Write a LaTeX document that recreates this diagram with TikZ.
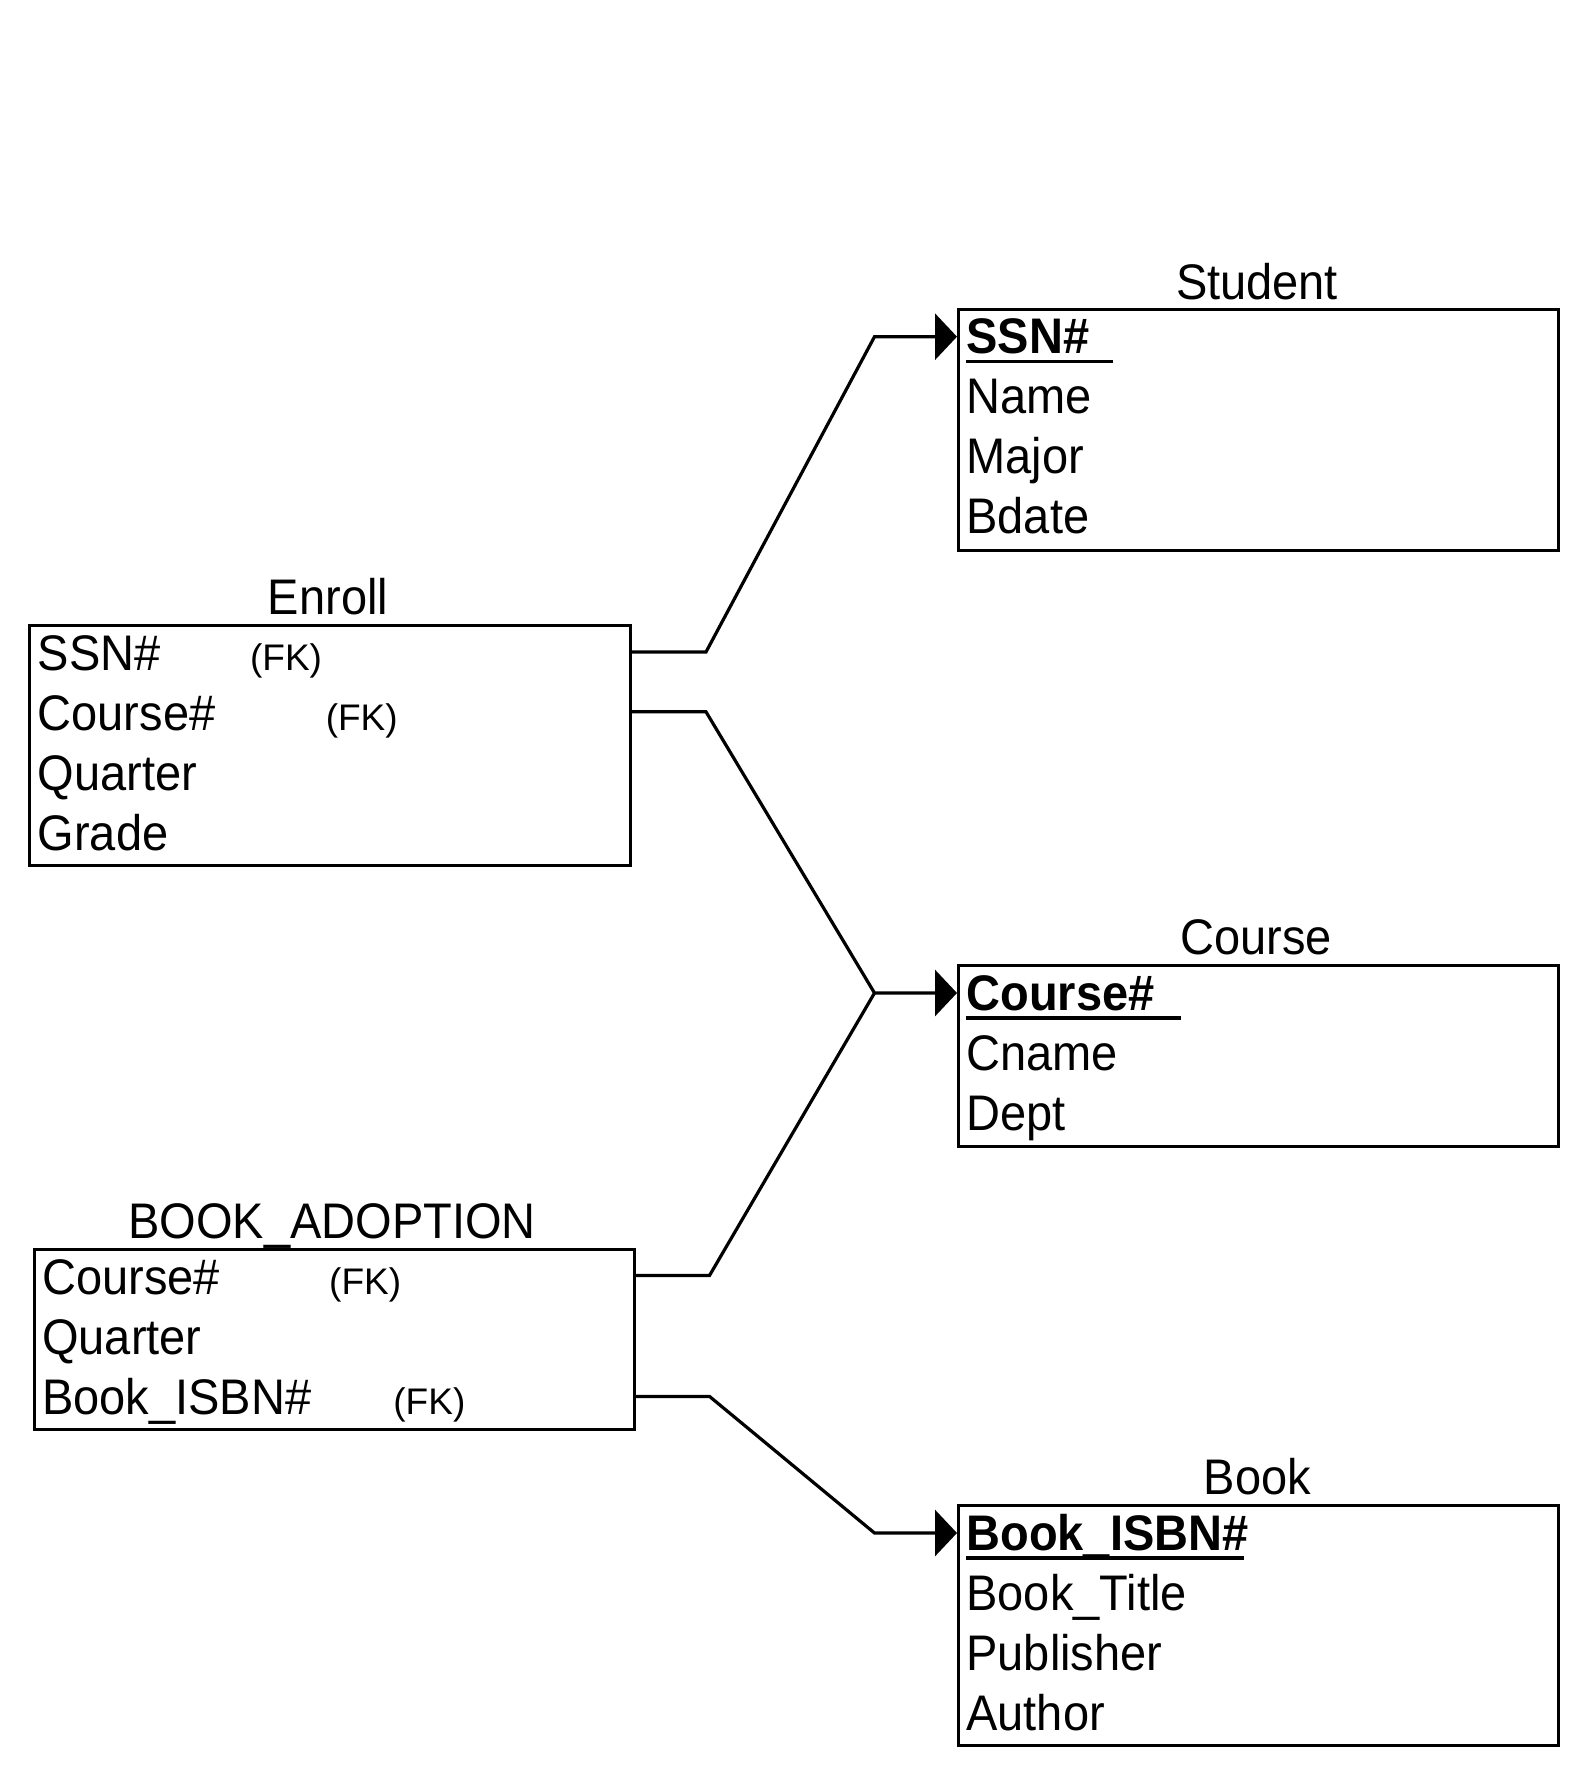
\documentclass[tikz,border=0pt]{standalone}
\usepackage{fontspec}
\setmainfont{Liberation Sans}
\usetikzlibrary{arrows.meta}
\begin{document}
\begin{tikzpicture}[x=0.5pt,y=-0.5pt,
  tablebox/.style={draw, line width=1.6pt, inner sep=0pt, anchor=north west, minimum width=300pt},
  rowtext/.style={anchor=base west, inner sep=0pt, xscale=0.94, font=\fontsize{25}{30}\selectfont},
  keytext/.style={anchor=base west, inner sep=0pt, xscale=0.94, font=\fontsize{25}{30}\selectfont\bfseries},
  titletext/.style={anchor=base, inner sep=0pt, xscale=0.94, font=\fontsize{25}{30}\selectfont},
  fktext/.style={anchor=base west, inner sep=0pt, font=\fontsize{18.5}{22}\selectfont},
  keyline/.style={line width=1.6pt},
  conn/.style={line width=1.6pt, line join=miter},
  connarrow/.style={conn, -{Triangle[length=11pt,width=23pt]}}]
\useasboundingbox (0,0) rectangle (1584,1772);

% Student
\node[tablebox, minimum height=120.5pt] (student) at (957,308) {};
\node[titletext] (studentT) at (1257,299) {Student};
\node[keytext] (sSSN) at (966,353.6) {SSN\#};
\draw[keyline] (966,361.5) -- (1113,361.5);
\node[rowtext] (sName) at (966,413.6) {Name};
\node[rowtext] (sMajor) at (966,473.6) {Major};
\node[rowtext] (sBdate) at (966,533.6) {Bdate};

% Enroll
\node[tablebox, minimum width=300.5pt, minimum height=120pt] (enroll) at (28,624) {};
\node[titletext] (enrollT) at (328,614.6) {Enroll};
\node[rowtext] (eSSN) at (37.3,670) {SSN\#};
\node[fktext] (eFK1) at (249.7,670) {(FK)};
\node[rowtext] (eCourse) at (37.3,730) {Course\#};
\node[fktext] (eFK2) at (325.4,730) {(FK)};
\node[rowtext] (eQuarter) at (37.3,790) {Quarter};
\node[rowtext] (eGrade) at (37.3,850) {Grade};

% Course
\node[tablebox, minimum height=90.5pt] (course) at (957,964) {};
\node[titletext] (courseT) at (1256,954.7) {Course};
\node[keytext] (cCourse) at (966,1010) {Course\#};
\draw[keyline] (966,1017.9) -- (1180.6,1017.9);
\node[rowtext] (cCname) at (966,1070) {Cname};
\node[rowtext] (cDept) at (966,1130) {Dept};

% BOOK_ADOPTION
\node[tablebox, minimum height=90pt] (ba) at (33,1248) {};
\node[titletext] (baT) at (332,1238) {BOOK\_ADOPTION};
\node[rowtext] (baCourse) at (41.8,1294.4) {Course\#};
\node[fktext] (baFK1) at (328.8,1294.4) {(FK)};
\node[rowtext] (baQuarter) at (41.8,1354.4) {Quarter};
\node[rowtext] (baISBN) at (41.8,1414.4) {Book\_ISBN\#};
\node[fktext] (baFK2) at (393,1414.4) {(FK)};

% Book
\node[tablebox, minimum height=120pt] (book) at (957,1504) {};
\node[titletext] (bookT) at (1257.5,1494.7) {Book};
\node[keytext] (bISBN) at (966,1550) {Book\_ISBN\#};
\draw[keyline] (966,1557.9) -- (1244,1557.9);
\node[rowtext] (bTitle) at (966,1610) {Book\_Title};
\node[rowtext] (bPub) at (966,1670) {Publisher};
\node[rowtext] (bAuthor) at (966,1730) {Author};

% connector anchor points
\coordinate (eSSNout) at (629,652);
\coordinate (eSSNbend) at (706,652);
\coordinate (eCourseout) at (629,711.8);
\coordinate (eCoursebend) at (706,711.8);
\coordinate (baCourseout) at (633,1275.5);
\coordinate (baCoursebend) at (709.5,1275.5);
\coordinate (baISBNout) at (633,1396.4);
\coordinate (baISBNbend) at (709.5,1396.4);
\coordinate (sSSNbend) at (874.5,336.7);
\coordinate (sSSNin) at (957,336.7);
\coordinate (cCoursebend) at (874.5,993);
\coordinate (cCoursein) at (957,993);
\coordinate (bISBNbend) at (874.5,1533);
\coordinate (bISBNin) at (957,1533);

\draw[connarrow] (eSSNout) -- (eSSNbend) -- (sSSNbend) -- (sSSNin);
\draw[connarrow] (eCourseout) -- (eCoursebend) -- (cCoursebend) -- (cCoursein);
\draw[conn] (baCourseout) -- (baCoursebend) -- (cCoursebend);
\draw[connarrow] (baISBNout) -- (baISBNbend) -- (bISBNbend) -- (bISBNin);
\end{tikzpicture}
\end{document}
